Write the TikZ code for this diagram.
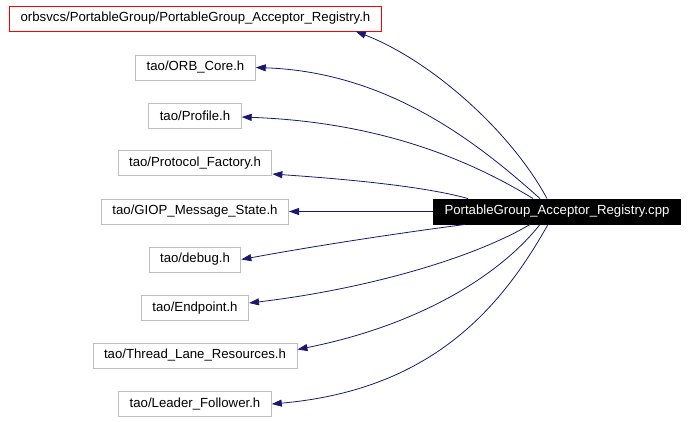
\documentclass[tikz,border=0pt]{standalone}
\usepackage{fontspec}
\setmainfont{Liberation Sans}
\usepackage{tikz}
\usetikzlibrary{arrows.meta, positioning}
\definecolor{edgenavy}{HTML}{191970}
\definecolor{boxgray}{HTML}{BFBFBF}
\definecolor{boxred}{HTML}{FF0000}
\tikzset{
  hdrbox/.style={draw=boxgray, line width=0.9pt, fill=white, inner xsep=11pt, inner ysep=2pt, minimum height=25pt, font=\fontsize{13.2}{15}\selectfont},
  mainbox/.style={hdrbox, draw=boxred},
  srcbox/.style={hdrbox, draw=black, fill=black, text=white},
  incl/.style={draw=edgenavy, line width=0.8pt, -{Triangle[length=10pt, width=7pt]}}
}

\begin{document}
\begin{tikzpicture}[x=1pt, y=-1pt]
    \useasboundingbox (0,0) rectangle (688,421);
    % included headers
    \node[mainbox] (orbsvcs) at (195.5,18.5) {orbsvcs/PortableGroup/PortableGroup\_Acceptor\_Registry.h};
    \node[hdrbox] (orbcore) at (195.5,67.5) {tao/ORB\_Core.h};
    \node[hdrbox] (profile) at (195,116) {tao/Profile.h};
    \node[hdrbox] (protocol) at (195,163) {tao/Protocol\_Factory.h};
    \node[hdrbox] (giop) at (195,211.5) {tao/GIOP\_Message\_State.h};
    \node[hdrbox] (debug) at (195,259.5) {tao/debug.h};
    \node[hdrbox] (endpoint) at (195,308) {tao/Endpoint.h};
    \node[hdrbox] (threadlane) at (195,355.5) {tao/Thread\_Lane\_Resources.h};
    \node[hdrbox] (leader) at (195,404) {tao/Leader\_Follower.h};
    % the source file
    \node[srcbox] (cpp) at (557,211.5) {PortableGroup\_Acceptor\_Registry.cpp};
    % include edges, upper half
    \draw[incl] ([xshift=-10pt]cpp.north) .. controls (510,130) and (430,60) .. ([xshift=-26pt]orbsvcs.south east);
    \draw[incl] ([xshift=-17pt]cpp.north) .. controls (480,145) and (390,72) .. (orbcore.east);
    \draw[incl] ([xshift=-24pt]cpp.north) .. controls (470,160) and (380,122) .. ([yshift=-1pt]profile.east);
    \draw[incl] ([xshift=-89pt]cpp.north) .. controls (420,185) and (330,178) .. ([yshift=-11pt]protocol.east);
    \draw[incl] (cpp.west) -- (giop.east);
    % include edges, lower half
    \draw[incl] ([xshift=-92pt]cpp.south) .. controls (400,233) and (320,245) .. (debug.east);
    \draw[incl] ([xshift=-27pt]cpp.south) .. controls (470,260) and (360,290) .. ([yshift=5pt]endpoint.east);
    \draw[incl] ([xshift=-17pt]cpp.south) .. controls (500,275) and (420,325) .. ([yshift=6pt]threadlane.east);
    \draw[incl] ([xshift=-9pt]cpp.south) .. controls (500,310) and (430,390) .. (leader.east);
\end{tikzpicture}
\end{document}
